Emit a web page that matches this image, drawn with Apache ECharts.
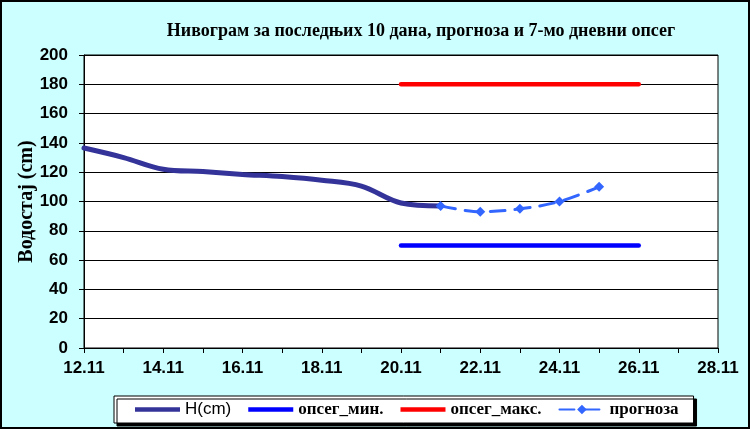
<!DOCTYPE html>
<html><head><meta charset="utf-8">
<script src="https://cdn.jsdelivr.net/npm/echarts@6/dist/echarts.min.js"></script>
<style>html,body{margin:0;padding:0;background:#ccffff}#c{width:750px;height:429px}</style>
</head><body><div id="c"></div>
<script>
// Data
const days = [12, 13, 14, 15, 16, 17, 18, 19, 20, 21];
const hValues = [136.5, 130, 122, 120.4, 118.5, 117, 114.5, 110.5, 99, 97];
const forecastDays = [21, 22, 23, 24, 25];
const forecastValues = [97, 93, 95, 100, 110];
const rangeDays = [20, 26];
const minValues = [70, 70];
const maxValues = [180, 180];
const xTicks = [12, 14, 16, 18, 20, 22, 24, 26, 28];
const seriesNames = ['H(cm)', 'опсег_мин.', 'опсег_макс.', 'прогноза'];

const pair = (xs, ys) => xs.map((x, i) => [x, ys[i]]);
const chart = echarts.init(document.getElementById('c'));
const serif = '"Liberation Serif", "DejaVu Serif", serif';
const sans = '"Liberation Sans", Arial, sans-serif';
const barIcon = 'path://M0,0 L45,0 L45,4.5 L0,4.5 Z';

chart.setOption({
  backgroundColor: '#ccffff',
  animation: false,
  title: {
    text: 'Нивограм за последњих 10 дана, прогноза и 7-мо дневни опсег',
    left: 416, top: 17, textAlign: 'center',
    textStyle: { fontFamily: serif, fontWeight: 'bold', fontSize: 18, color: '#000' }
  },
  grid: { left: 84, right: 32, top: 55, bottom: 81, show: true, backgroundColor: '#fff', borderColor: '#000', borderWidth: 1 },
  xAxis: {
    type: 'value', min: xTicks[0], max: xTicks[xTicks.length - 1], interval: 2,
    axisLine: { show: true, lineStyle: { color: '#000', width: 1 } },
    axisTick: { show: true, length: 5, lineStyle: { color: '#000' } },
    minorTick: { show: true, splitNumber: 2, length: 5, lineStyle: { color: '#000' } },
    splitLine: { show: false },
    axisLabel: { formatter: v => v + '.11', fontFamily: sans, fontWeight: 'bold', fontSize: 17, color: '#000', margin: 12 }
  },
  yAxis: {
    type: 'value', min: 0, max: 200, interval: 20,
    name: 'Водостај (cm)', nameLocation: 'middle', nameGap: 47, nameRotate: 90, nameMoveOverlap: false,
    nameTextStyle: { fontFamily: serif, fontWeight: 'bold', fontSize: 20, color: '#000' },
    axisLine: { show: true, lineStyle: { color: '#000', width: 1 } },
    axisTick: { show: true, length: 5, lineStyle: { color: '#000' } },
    splitLine: { show: true, lineStyle: { color: '#000', width: 1 } },
    axisLabel: { fontFamily: sans, fontWeight: 'bold', fontSize: 17, color: '#000', margin: 16 }
  },
  legend: {
    bottom: 6, left: 114,
    data: [
      { name: seriesNames[0], icon: barIcon },
      { name: seriesNames[1], icon: barIcon },
      { name: seriesNames[2], icon: barIcon },
      { name: seriesNames[3] }
    ],
    backgroundColor: '#fff', borderColor: '#000', borderWidth: 1,
    shadowColor: '#000', shadowOffsetX: 3, shadowOffsetY: 3, shadowBlur: 0,
    padding: [5, 15, 5, 21], itemGap: 17, itemWidth: 45, itemHeight: 12,
    formatter: n => n === 'H(cm)' ? '{s|' + n + '}' : n,
    textStyle: {
      fontFamily: serif, fontWeight: 'bold', fontSize: 17, color: '#000',
      rich: { s: { fontFamily: sans, fontWeight: 'normal', fontSize: 17, color: '#000' } }
    }
  },
  series: [
    { name: seriesNames[0], type: 'line', data: pair(days, hValues), smooth: 0.35, symbol: 'none',
      itemStyle: { color: '#333399' }, lineStyle: { color: '#333399', width: 5, cap: 'round' }, z: 3 },
    { name: seriesNames[1], type: 'line', data: pair(rangeDays, minValues), symbol: 'none',
      itemStyle: { color: '#0000ff' }, lineStyle: { color: '#0000ff', width: 4.5, cap: 'round' } },
    { name: seriesNames[2], type: 'line', data: pair(rangeDays, maxValues), symbol: 'none',
      itemStyle: { color: '#ff0000' }, lineStyle: { color: '#ff0000', width: 4.5, cap: 'round' } },
    { name: seriesNames[3], type: 'line', data: pair(forecastDays, forecastValues), smooth: 0.35,
      symbol: 'diamond', symbolSize: 10, showSymbol: true,
      itemStyle: { color: '#3366ff' }, lineStyle: { color: '#3366ff', width: 3, type: [15, 10], cap: 'round' }, z: 4 }
  ],
  graphic: [{ type: 'rect', shape: { x: 1, y: 1, width: 748, height: 427 }, style: { fill: 'none', stroke: '#000', lineWidth: 2 }, z: 100 }]
});
</script></body></html>
